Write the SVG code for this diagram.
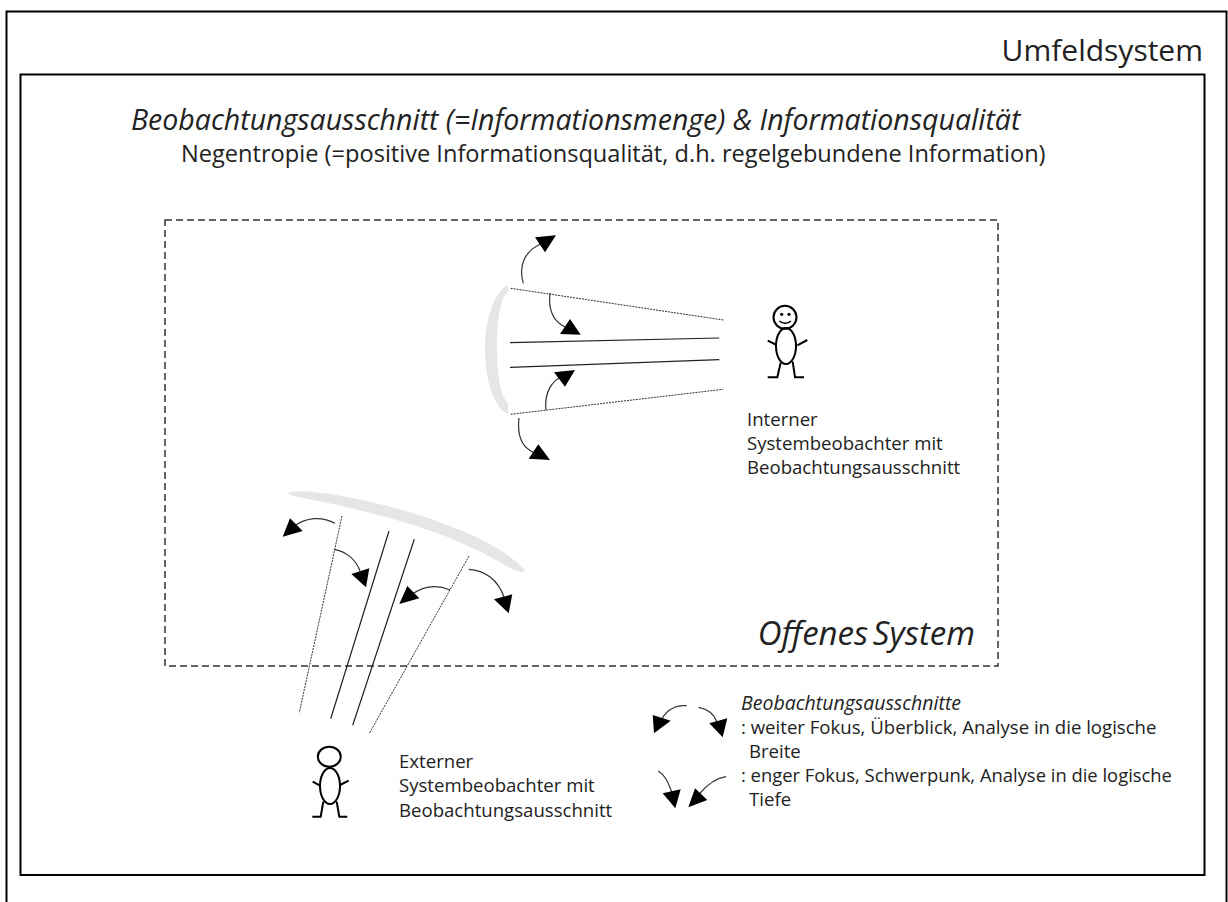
<svg xmlns="http://www.w3.org/2000/svg" width="1228" height="902" viewBox="0 0 1228 902">
<defs>
<style>
text{font-family:"Open Sans","Noto Sans","Liberation Sans",sans-serif;fill:#222}
.frame{fill:none;stroke:#000;stroke-width:2}
.sys{fill:none;stroke:#333;stroke-width:1.5;stroke-dasharray:7 4}
.solid{fill:none;stroke:#222;stroke-width:1.2}
.dot{fill:none;stroke:#333;stroke-width:1;stroke-dasharray:2 1}
.arc{fill:none;stroke:#333;stroke-width:1.2}
.head{fill:#000}
.lens{fill:#e6e6e6}
.fig{fill:none;stroke:#000;stroke-width:2}
.l{font-size:18.6px}
</style>
</defs>
<rect width="1228" height="902" fill="#fff"/>
<g id="umfeld"><rect class="frame" x="6.500" y="11.500" width="1220" height="900"/><text x="1203" y="61" text-anchor="end" font-size="30">Umfeldsystem</text></g>
<g id="inner"><rect class="frame" x="20.500" y="74.500" width="1184" height="800.500"/></g>
<g id="titel"><text x="131" y="129.500" font-size="28.500" font-style="italic">Beobachtungsausschnitt (=Informationsmenge) &amp; Informationsqualität</text>
<text x="181" y="162" font-size="23.600">Negentropie (=positive Informationsqualität, d.h. regelgebundene Information)</text></g>
<g id="offenes-system"><rect class="sys" x="165" y="220" width="833" height="446"/><text x="975" y="645" text-anchor="end" font-size="33" font-style="italic" word-spacing="-4">Offenes System</text></g>
<g id="lens-intern"><path class="lens" d="M508 285C495 290 485 320 485 347C485 378 493 408 508 414L508 403C500 395 497 375 497 347C497 320 500 298 508 292Z"/></g>
<g id="lens-extern"><path class="lens" d="M287 493C295 490 310 491 330 494C400 505 470 530 503 552C512 558 522 565 525 571C522 573 516 571 510 568C480 550 440 532 403 522C370 512 330 503 303 498C295 497 290 495 287 493Z"/></g>
<g id="connectors">
<path class="dot" d="M510.700 288.300L723.300 320M510.700 414.300L723.300 389.300M342 516L299.300 712.700M469 556L369 734"/>
<path class="solid" d="M510 342.700L719.300 338M510 367.300L719.300 359.700M389 531L330.700 718.700M414.300 539.300L352.700 725.300"/>
<path class="arc" d="M523.300 283.300C518 265 525 250 543 243M550 293C548 310 553 322 567 328M546 410C544 393 552 380 563 376M519 418C517 435 522 448 535 453"/>
<path class="arc" d="M335 523.300C322 516 306 517 293 527M334 549.300C346 551 356 560 360 571M450 590C436 584 422 587 411 595M468.700 569.300C485 570 498 580 504 597"/>
<path class="arc" d="M686.700 705.700C675 705 667 710 661.700 719M698.700 707.300C708 709 714 714 717 722M658.300 771C665 775 668 782 671.700 792M726 776.700C715 778 706 786 698.300 795"/>
<path class="head" d="M556 235.300L535 237.300L545 252.300ZM570 319L560 334L580.700 334.700ZM575 370L554 372.300L565 386.700ZM538.300 444.300L528.700 458.700L550 460Z"/>
<path class="head" d="M290 518.300L282.700 536.700L302.700 531ZM369.300 568.300L351.300 574L366 587.300ZM407.300 586L399.300 604L419.300 598.300ZM512.300 594.300L494 599.300L508.700 613.300Z"/>
<path class="head" d="M652.700 715L670.700 720.700L654 733.300ZM727.300 718.300L709.300 723.300L722.700 737.300ZM680.700 789.300L662.700 793.300L675.300 808.300ZM688.300 807.300L707.300 800L695 788.300Z"/>
</g>
<g id="beobachter-intern">
<circle class="fig" cx="785" cy="317.300" r="11.500"/><ellipse class="fig" cx="786" cy="346" rx="10" ry="18"/>
<path class="fig" d="M767.700 340.700L776.700 345M807.300 340L797.300 345.300M780.700 362.700L777.300 377.300H767.700M792.700 361.700L795 377.300H804"/>
<circle cx="781.700" cy="314.300" r="1.600"/><circle cx="789" cy="314.300" r="1.600"/><path d="M779.300 321C783 324 788 324 791 321" fill="none" stroke="#000" stroke-width="1.500"/>
<text class="l" x="747" y="426">Interner</text><text class="l" x="747" y="450">Systembeobachter mit</text><text class="l" x="747" y="474">Beobachtungsausschnitt</text>
</g>
<g id="beobachter-extern">
<ellipse class="fig" cx="329.300" cy="756.700" rx="11.500" ry="10"/><ellipse class="fig" cx="330" cy="786" rx="10" ry="18"/>
<path class="fig" d="M312.700 781.700L320 785.700M348.700 780.700L340 785M323.300 801.700L320.700 816.700H312.300M336.700 801.700L339.300 816.700H347.300"/>
<text class="l" x="399" y="768">Externer</text><text class="l" x="399" y="792">Systembeobachter mit</text><text class="l" x="399" y="817">Beobachtungsausschnitt</text>
</g>
<g id="legende">
<text x="741" y="710" font-size="19.500" font-style="italic">Beobachtungsausschnitte</text>
<text class="l" x="741" y="734">: weiter Fokus, Überblick, Analyse in die logische</text>
<text class="l" x="749" y="758">Breite</text>
<text x="741" y="782" font-size="18.400">: enger Fokus, Schwerpunk, Analyse in die logische</text>
<text class="l" x="749" y="806">Tiefe</text>
</g>
</svg>
